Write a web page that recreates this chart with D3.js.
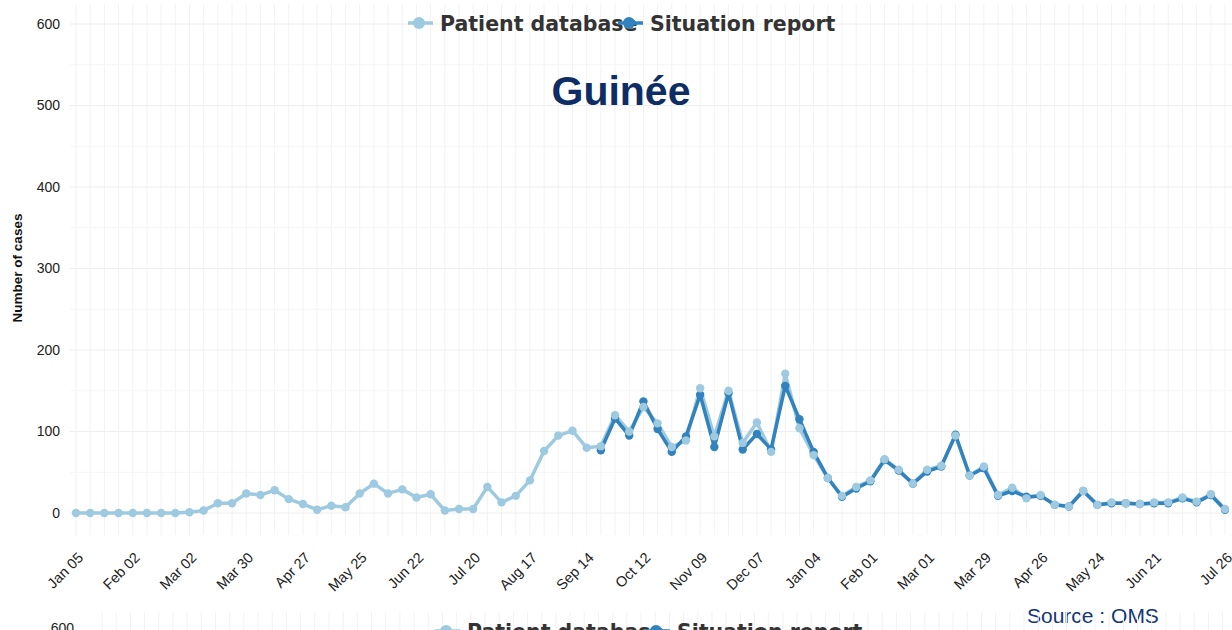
<!DOCTYPE html>
<html>
<head>
<meta charset="utf-8">
<script src="https://cdn.jsdelivr.net/npm/d3@7"></script>
<style>
  body { margin: 0; background: #fff; }
  svg { display: block; }
  .tick text { font-family: "Liberation Sans", Arial, sans-serif; fill: #222; }
</style>
</head>
<body>
<div id="chart"></div>
<script>
// Weekly counts, Guinea, week starting 2014-01-05
const startWeek = "2014-01-05";

const patientDatabase = [
  0, 0, 0, 0, 0, 0, 0, 0, 1, 3,
  12, 12, 24, 22, 28, 17, 11, 4, 9, 7,
  24, 36, 24, 29, 19, 23, 3, 5, 5, 32,
  13, 21, 40, 76, 95, 101, 80, 82, 120, 100,
  130, 110, 81, 89, 153, 94, 150, 86, 111, 75,
  171, 104, 71, 43, 21, 32, 40, 66, 53, 36,
  53, 58, 95, 46, 57, 22, 31, 18, 22, 10,
  8, 27, 10, 13, 12, 11, 13, 13, 19, 14,
  23, 5
];

// Situation report starts at week index 37 (2014-09-21)
const situationStart = 37;
const situationReport = [
  77, 116, 95, 137, 103, 75, 94, 145, 81, 147,
  78, 97, 78, 156, 115, 75, 43, 20, 30, 39,
  65, 52, 36, 51, 57, 96, 46, 55, 21, 27,
  20, 21, 10, 8, 27, 10, 12, 12, 11, 12,
  12, 18, 13, 22, 4
];

const tickDates = [
  "2014-01-05", "2014-02-02", "2014-03-02", "2014-03-30", "2014-04-27",
  "2014-05-25", "2014-06-22", "2014-07-20", "2014-08-17", "2014-09-14",
  "2014-10-12", "2014-11-09", "2014-12-07", "2015-01-04", "2015-02-01",
  "2015-03-01", "2015-03-29", "2015-04-26", "2015-05-24", "2015-06-21",
  "2015-07-26"
];
const yTicks = [0, 100, 200, 300, 400, 500, 600];
const seriesNames = ["Patient database", "Situation report"];
const colors = ["#9ecae1", "#3182bd"];

const W = 1232, H = 630;
const parse = d3.utcParse("%Y-%m-%d");
const start = parse(startWeek);
const weeks = patientDatabase.map((_, i) => d3.utcDay.offset(start, 7 * i));

const patient = patientDatabase.map((v, i) => ({date: weeks[i], value: v}));
const situation = situationReport.map((v, i) => ({date: weeks[situationStart + i], value: v}));

const x = d3.scaleUtc()
  .domain([weeks[0], weeks[weeks.length - 1]])
  .range([76, 1225]);
const y = d3.scaleLinear().domain([0, 600]).range([513, 24]);

const svg = d3.select("#chart").append("svg")
  .attr("width", W)
  .attr("height", H);

///////////////////////////////////////////////////////////////////////////
// Grid
const grid = svg.append("g").attr("class", "grid");
grid.selectAll(".vgrid")
  .data(weeks)
  .enter().append("line")
    .attr("x1", d => x(d)).attr("x2", d => x(d))
    .attr("y1", 4).attr("y2", 535)
    .style("stroke", "#f2f2f2");
grid.selectAll(".hgrid")
  .data(d3.range(0, 601, 50))
  .enter().append("line")
    .attr("x1", 70).attr("x2", W)
    .attr("y1", d => y(d)).attr("y2", d => y(d))
    .style("stroke", d => d % 100 === 0 ? "#eeeeee" : "#f5f5f5");

///////////////////////////////////////////////////////////////////////////
// Axes
svg.append("g")
    .attr("transform", "translate(62,0)")
    .call(d3.axisLeft(y).tickValues(yTicks).tickSize(0).tickPadding(2))
    .call(g => g.select(".domain").remove())
  .selectAll("text")
    .style("font-size", "14px");

svg.append("g")
    .attr("transform", "translate(0,540)")
    .call(d3.axisBottom(x)
      .tickValues(tickDates.map(parse))
      .tickFormat(d3.utcFormat("%b %d"))
      .tickSize(0))
    .call(g => g.select(".domain").remove())
  .selectAll("text")
    .style("font-size", "14.5px")
    .style("text-anchor", "end")
    .attr("x", 0).attr("y", 0).attr("dy", "0.35em")
    .attr("transform", "translate(4,15) rotate(-45)");

svg.append("text")
  .attr("transform", "translate(22,268) rotate(-90)")
  .style("text-anchor", "middle")
  .style("font-family", "Liberation Sans, Arial, sans-serif")
  .style("font-weight", "bold")
  .style("font-size", "13.5px")
  .style("fill", "#111")
  .text("Number of cases");

///////////////////////////////////////////////////////////////////////////
// Lines and points
const line = d3.line().x(d => x(d.date)).y(d => y(d.value));

svg.append("path").datum(patient)
  .attr("d", line)
  .style("fill", "none").style("stroke", colors[0]).style("stroke-width", 3.5)
  .style("stroke-linejoin", "round");
svg.append("path").datum(situation)
  .attr("d", line)
  .style("fill", "none").style("stroke", colors[1]).style("stroke-width", 3.5)
  .style("stroke-linejoin", "round");

svg.selectAll(".dot-sit")
  .data(situation)
  .enter().append("circle")
    .attr("cx", d => x(d.date)).attr("cy", d => y(d.value)).attr("r", 4.2)
    .style("fill", colors[1]);
svg.selectAll(".dot-pat")
  .data(patient)
  .enter().append("circle")
    .attr("cx", d => x(d.date)).attr("cy", d => y(d.value)).attr("r", 4.2)
    .style("fill", colors[0]);

///////////////////////////////////////////////////////////////////////////
// Legend
function legend(g, tx, ty) {
  const items = [{x: 408, tx: 440}, {x: 618, tx: 650}];
  items.forEach((it, i) => {
    const lg = g.append("g").attr("transform", `translate(${tx},${ty})`);
    lg.append("line")
      .attr("x1", it.x).attr("x2", it.x + 25).attr("y1", 0).attr("y2", 0)
      .style("stroke", colors[i]).style("stroke-width", 3.5);
    lg.append("circle").attr("cx", it.x + 11).attr("cy", 0).attr("r", 6)
      .style("fill", colors[i]);
    lg.append("text")
      .attr("x", it.tx).attr("y", 8)
      .style("font-family", "DejaVu Sans, sans-serif")
      .style("font-weight", "bold")
      .style("font-size", "20.5px")
      .style("fill", "#333")
      .text(seriesNames[i]);
  });
}
// Situation symbol sits over the end of the patient text
const legendG = svg.append("g");
legend(legendG, 0, 23);
legendG.selectAll("g").filter((d, i) => i === 1).raise();

///////////////////////////////////////////////////////////////////////////
// Title and source
svg.append("text")
  .attr("x", 621).attr("y", 105)
  .style("text-anchor", "middle")
  .style("font-family", "Liberation Sans, Arial, sans-serif")
  .style("font-weight", "bold")
  .style("font-size", "41px")
  .style("fill", "#0e2d64")
  .text("Guinée");

svg.append("text")
  .attr("x", 1027).attr("y", 623)
  .style("font-family", "Liberation Sans, Arial, sans-serif")
  .style("font-size", "21px")
  .style("fill", "#14367a")
  .text("Source : OMS");

///////////////////////////////////////////////////////////////////////////
// Top of the next chart, cut off by the frame
const next = svg.append("g");
next.selectAll("line")
  .data(weeks)
  .enter().append("line")
    .attr("x1", d => x(d) + 26).attr("x2", d => x(d) + 26)
    .attr("y1", 612).attr("y2", H)
    .style("stroke", "#f2f2f2");
next.append("text")
  .attr("x", 74).attr("y", 633)
  .style("text-anchor", "end")
  .style("font-family", "Liberation Sans, Arial, sans-serif")
  .style("font-size", "14px")
  .style("fill", "#222")
  .text("600");
const legendNext = svg.append("g");
legend(legendNext, 27, 631);
legendNext.selectAll("g").filter((d, i) => i === 1).raise();
</script>
</body>
</html>
